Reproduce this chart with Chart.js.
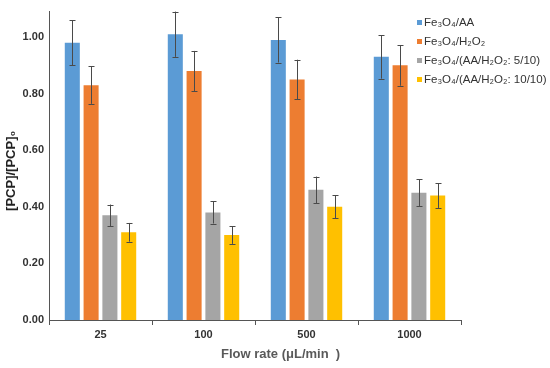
<!DOCTYPE html>
<html>
<head>
<meta charset="utf-8">
<script src="https://cdn.jsdelivr.net/npm/chart.js@4/dist/chart.umd.min.js"></script>
<style>
html,body{margin:0;padding:0;background:#fff;}
#wrap{position:relative;width:550px;height:368px;}
</style>
</head>
<body>
<div id="wrap"><canvas id="c" width="550" height="368"></canvas></div>
<script>
const categories = ['25', '100', '500', '1000'];
const seriesLabels = ['Fe\u2083O\u2084/AA', 'Fe\u2083O\u2084/H\u2082O\u2082', 'Fe\u2083O\u2084/(AA/H\u2082O\u2082: 5/10)', 'Fe\u2083O\u2084/(AA/H\u2082O\u2082: 10/10)'];
const fe3o4AA = [0.98, 1.01, 0.99, 0.93];
const fe3o4H2O2 = [0.83, 0.88, 0.85, 0.90];
const mix5of10 = [0.37, 0.38, 0.46, 0.45];
const mix10of10 = [0.31, 0.30, 0.40, 0.44];
const errAA = [0.08, 0.08, 0.08, 0.077];
const errH2O2 = [0.066, 0.071, 0.07, 0.072];
const err5of10 = [0.038, 0.039, 0.047, 0.047];
const err10of10 = [0.033, 0.031, 0.041, 0.044];
const yTicks = [0, 0.2, 0.4, 0.6, 0.8, 1.0];
const colors = ['#5B9BD5', '#ED7D31', '#A5A5A5', '#FFC000'];

const values = [fe3o4AA, fe3o4H2O2, mix5of10, mix10of10];
const errors = [errAA, errH2O2, err5of10, err10of10];

const errorBarPlugin = {
  id: 'errorBars',
  afterDatasetsDraw(chart) {
    const ctx = chart.ctx;
    const y = chart.scales.y;
    ctx.save();
    ctx.strokeStyle = '#4a4a4a';
    ctx.lineWidth = 1;
    chart.data.datasets.forEach((ds, di) => {
      const meta = chart.getDatasetMeta(di);
      meta.data.forEach((bar, i) => {
        const v = ds.data[i], e = ds.errors[i];
        const x = Math.round(bar.x) + 0.5;
        const yt = y.getPixelForValue(v + e), yb = y.getPixelForValue(v - e);
        ctx.beginPath();
        ctx.moveTo(x, yt); ctx.lineTo(x, yb);
        ctx.moveTo(x - 3, Math.round(yt) + 0.5); ctx.lineTo(x + 3, Math.round(yt) + 0.5);
        ctx.moveTo(x - 3, Math.round(yb) + 0.5); ctx.lineTo(x + 3, Math.round(yb) + 0.5);
        ctx.stroke();
      });
    });
    ctx.restore();
  }
};

const legendPlugin = {
  id: 'customLegend',
  afterDraw(chart) {
    const ctx = chart.ctx;
    ctx.save();
    ctx.font = '11.5px "Liberation Sans", Arial, sans-serif';
    ctx.textBaseline = 'middle';
    chart.data.datasets.forEach((ds, i) => {
      const yy = 23 + i * 19;
      ctx.fillStyle = ds.backgroundColor;
      ctx.fillRect(417, yy - 3, 5, 5);
      ctx.fillStyle = '#333';
      ctx.fillText(ds.label, 424, yy);
    });
    ctx.restore();
  }
};

const axisTitlePlugin = {
  id: 'axisTitles',
  afterDraw(chart) {
    const ctx = chart.ctx;
    const a = chart.chartArea;
    ctx.save();
    ctx.fillStyle = '#595959';
    ctx.font = 'bold 13px "Liberation Sans", Arial, sans-serif';
    ctx.textAlign = 'left';
    ctx.textBaseline = 'middle';
    ctx.fillText('Flow rate (\u03bcL/min  )', 221, 354);
    ctx.translate(11, (a.top + a.bottom) / 2 + 5);
    ctx.rotate(-Math.PI / 2);
    ctx.textAlign = 'center';
    ctx.fillStyle = '#222';
    ctx.fillText('[PCP]/[PCP]\u2080', 0, 0);
    ctx.restore();
  }
};

new Chart(document.getElementById('c'), {
  type: 'bar',
  data: {
    labels: categories,
    datasets: values.map((v, i) => ({
      label: seriesLabels[i],
      data: v,
      errors: errors[i],
      backgroundColor: colors[i],
      borderWidth: 0,
      categoryPercentage: 0.73,
      barPercentage: 0.8
    }))
  },
  options: {
    responsive: false,
    animation: false,
    events: [],
    layout: { padding: { top: 8, right: 89, left: 0, bottom: 0 } },
    plugins: { legend: { display: false }, tooltip: { enabled: false }, title: { display: false } },
    scales: {
      x: {
        offset: true,
        grid: { display: true, drawOnChartArea: false, offset: true, tickLength: 5, color: '#555' },
        border: { color: '#555', width: 1 },
        ticks: { color: '#333', font: { family: '"Liberation Sans", Arial, sans-serif', size: 11, weight: 'bold' }, padding: 3 },
        afterFit(scale) { scale.height = 48; }
      },
      y: {
        min: 0,
        max: 1.09,
        grid: { display: false, drawTicks: false },
        border: { color: '#555', width: 1 },
        ticks: {
          color: '#333',
          font: { family: '"Liberation Sans", Arial, sans-serif', size: 11, weight: 'bold' },
          padding: 5,
          callback: v => Number(v).toFixed(2)
        },
        afterBuildTicks(axis) { axis.ticks = yTicks.map(v => ({ value: v })); },
        afterFit(scale) { scale.width = 49; }
      }
    }
  },
  plugins: [errorBarPlugin, legendPlugin, axisTitlePlugin]
});
</script>
</body>
</html>
